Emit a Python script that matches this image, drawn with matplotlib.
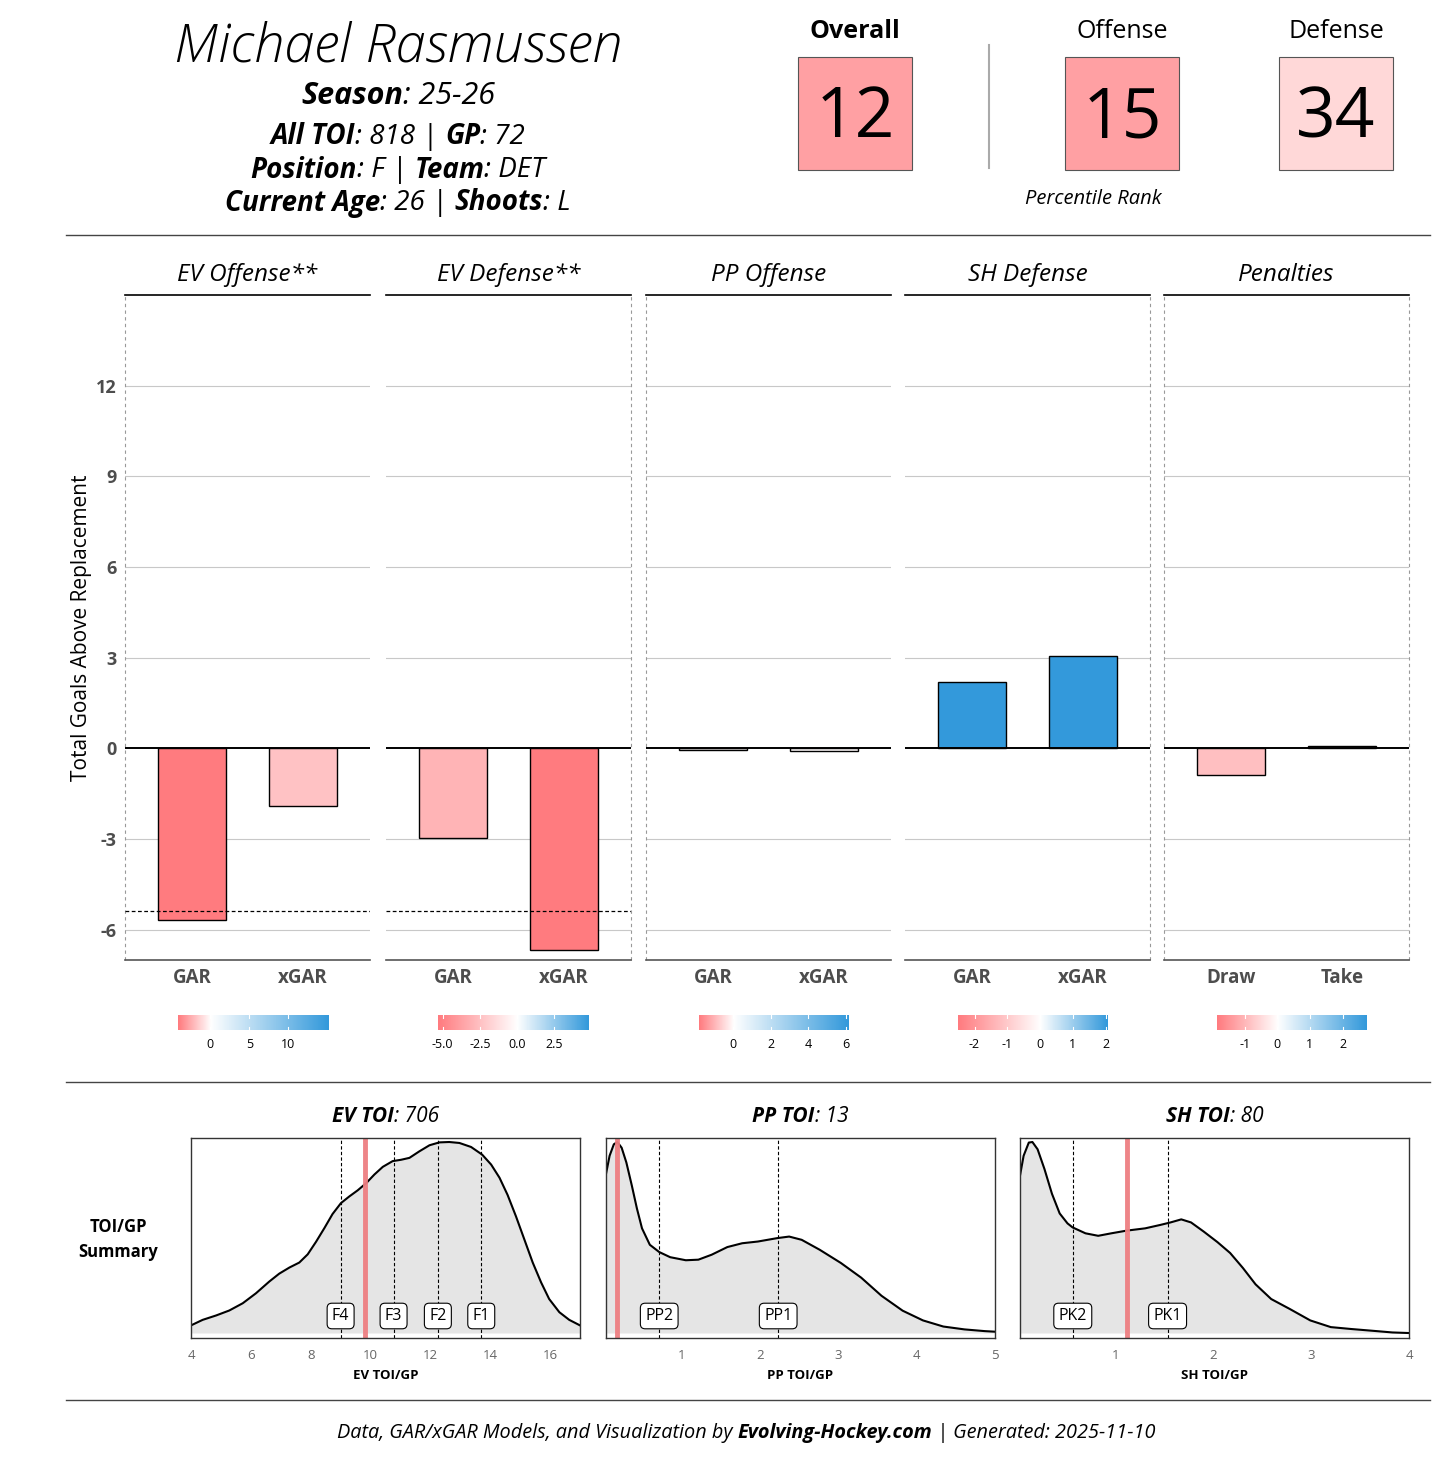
import numpy as np
import matplotlib
matplotlib.use('Agg')
import matplotlib.pyplot as plt
from matplotlib.colors import LinearSegmentedColormap, TwoSlopeNorm
from matplotlib.patches import Rectangle
from matplotlib.lines import Line2D
import matplotlib.transforms as mtransforms

plt.rcParams['font.family'] = ['Open Sans', 'DejaVu Sans']

# ---- header data ----
player = 'Michael Rasmussen'
season = '25-26'
all_toi, gp = 818, 72
position, team = 'F', 'DET'
age, shoots = 26, 'L'
pct_names = ['Overall', 'Offense', 'Defense']
pct_values = [12, 15, 34]

# ---- GAR panels ----
panel_titles = ['EV Offense**', 'EV Defense**', 'PP Offense', 'SH Defense', 'Penalties']
panel_cats = [['GAR', 'xGAR'], ['GAR', 'xGAR'], ['GAR', 'xGAR'], ['GAR', 'xGAR'], ['Draw', 'Take']]
panel_vals = [[-5.68, -1.91], [-2.97, -6.67], [-0.05, -0.07], [2.21, 3.07], [-0.89, 0.07]]
ev_replacement = -5.38
cbar_limits = [(-4.2, 15.0), (-5.27, 4.78), (-1.87, 6.16), (-2.52, 2.06), (-1.86, 2.73)]
cbar_ticks = [[0, 5, 10], [-5.0, -2.5, 0.0, 2.5], [0, 2, 4, 6], [-2, -1, 0, 1, 2], [-1, 0, 1, 2]]
cbar_labels = [['0', '5', '10'], ['-5.0', '-2.5', '0.0', '2.5'], ['0', '2', '4', '6'],
               ['-2', '-1', '0', '1', '2'], ['-1', '0', '1', '2']]
y_ticks = [-6, -3, 0, 3, 6, 9, 12]

# ---- TOI densities (relative height) ----
ev_x = [4.0, 4.39, 4.84, 5.28, 5.73, 6.17, 6.62, 6.95, 7.29, 7.62, 7.90, 8.18, 8.46, 8.73, 9.01,
        9.29, 9.57, 9.85, 10.13, 10.41, 10.74, 11.02, 11.30, 11.63, 11.97, 12.30, 12.63, 12.97,
        13.36, 13.73, 14.03, 14.31, 14.58, 14.86, 15.14, 15.42, 15.70, 15.97, 16.31, 16.64, 17.0]
ev_h = [0.04, 0.069, 0.092, 0.118, 0.156, 0.208, 0.27, 0.311, 0.343, 0.369, 0.412, 0.478, 0.55,
        0.623, 0.68, 0.715, 0.747, 0.784, 0.83, 0.87, 0.90, 0.907, 0.917, 0.951, 0.983, 0.998,
        1.0, 0.995, 0.974, 0.934, 0.882, 0.813, 0.723, 0.611, 0.49, 0.369, 0.265, 0.178, 0.109,
        0.069, 0.04]
pp_x = [0.03, 0.076, 0.13, 0.175, 0.23, 0.29, 0.36, 0.425, 0.49, 0.59, 0.71, 0.85, 1.05, 1.21,
        1.38, 1.58, 1.77, 1.97, 2.22, 2.37, 2.53, 2.76, 3.03, 3.29, 3.55, 3.82, 4.08, 4.34, 4.61,
        4.87, 5.0]
pp_h = [0.833, 0.928, 0.988, 1.0, 0.97, 0.893, 0.772, 0.652, 0.548, 0.462, 0.424, 0.397, 0.381,
        0.384, 0.41, 0.45, 0.47, 0.479, 0.497, 0.505, 0.488, 0.436, 0.367, 0.29, 0.195, 0.117,
        0.066, 0.034, 0.019, 0.010, 0.007]
sh_x = [0.02, 0.057, 0.11, 0.147, 0.20, 0.27, 0.347, 0.426, 0.506, 0.558, 0.69, 0.82, 0.954,
        1.11, 1.30, 1.456, 1.56, 1.67, 1.77, 1.90, 2.04, 2.17, 2.30, 2.43, 2.59, 2.78, 2.99, 3.20,
        3.41, 3.67, 3.83, 4.0]
sh_h = [0.824, 0.928, 0.997, 1.0, 0.962, 0.859, 0.729, 0.626, 0.574, 0.553, 0.522, 0.509, 0.522,
        0.536, 0.548, 0.566, 0.579, 0.595, 0.579, 0.531, 0.476, 0.419, 0.341, 0.255, 0.178,
        0.126, 0.066, 0.031, 0.021, 0.010, 0.003, 0.0]
toi_names = ['EV TOI', 'PP TOI', 'SH TOI']
toi_totals = [706, 13, 80]
toi_xlabels = ['EV TOI/GP', 'PP TOI/GP', 'SH TOI/GP']
toi_xlims = [(4, 17), (0.03, 5), (0.02, 4)]
toi_xticks = [[4, 6, 8, 10, 12, 14, 16], [1, 2, 3, 4, 5], [1, 2, 3, 4]]
toi_player = [9.83, 0.17, 1.11]
toi_lines = [[9.0, 10.77, 12.25, 13.70], [0.71, 2.23], [0.56, 1.53]]
toi_line_labels = [['F4', 'F3', 'F2', 'F1'], ['PP2', 'PP1'], ['PK2', 'PK1']]

W, H = 1440, 1483
fig = plt.figure(figsize=(W / 100, H / 100), dpi=100)
renderer = fig.canvas.get_renderer()


def fx(px):
    return px / W


def fy(py):
    return 1 - py / H


def rich(x, y, parts, size, color='black'):
    # parts: (text, weight, style); centred on x (pixels)
    texts, widths = [], []
    for s, w, st in parts:
        probe = fig.text(0, 0, '|' + s + '|', fontsize=size, fontweight=w, fontstyle=st)
        probe2 = fig.text(0, 0, '||', fontsize=size, fontweight=w, fontstyle=st)
        widths.append(probe.get_window_extent(renderer).width - probe2.get_window_extent(renderer).width)
        probe.remove()
        probe2.remove()
        texts.append(fig.text(0, fy(y), s, fontsize=size, fontweight=w, fontstyle=st,
                              va='center', ha='left', color=color))
    cur = x - sum(widths) / 2
    for t, wd in zip(texts, widths):
        t.set_x(fx(cur))
        cur += wd


def hline(y, x0=66, x1=1430):
    fig.add_artist(Line2D([fx(x0), fx(x1)], [fy(y), fy(y)], color='#444444', lw=1.0))


# ---- header ----
fig.text(fx(398), fy(47), player, fontsize=39, fontstyle='italic', fontweight='light',
         ha='center', va='center')
rich(398, 96, [('Season', 'bold', 'italic'), (': ' + season, 'normal', 'italic')], 22)
rich(398, 137, [('All TOI', 'bold', 'italic'), (': %d | ' % all_toi, 'normal', 'italic'),
                ('GP', 'bold', 'italic'), (': %d' % gp, 'normal', 'italic')], 20)
rich(398, 170, [('Position', 'bold', 'italic'), (': %s | ' % position, 'normal', 'italic'),
                ('Team', 'bold', 'italic'), (': %s' % team, 'normal', 'italic')], 20)
rich(398, 203, [('Current Age', 'bold', 'italic'), (': %d | ' % age, 'normal', 'italic'),
                ('Shoots', 'bold', 'italic'), (': %s' % shoots, 'normal', 'italic')], 20)

box_x = [798, 1065, 1279]
box_colors = ['#ffa0a3', '#ffa0a3', '#ffd8d8']
for i in range(3):
    fig.text(fx(box_x[i] + 57), fy(32), pct_names[i], fontsize=18,
             fontweight='bold' if i == 0 else 'normal', ha='center', va='center')
    fig.add_artist(Rectangle((fx(box_x[i]), fy(170)), fx(114), 113 / H,
                             facecolor=box_colors[i], edgecolor='#555555', lw=0.8))
    fig.text(fx(box_x[i] + 57), fy(119), str(pct_values[i]), fontsize=50,
             ha='center', va='center')
fig.add_artist(Line2D([fx(989), fx(989)], [fy(45), fy(168)], color='#aaaaaa', lw=1.5))
fig.text(fx(1093), fy(199), 'Percentile Rank', fontsize=14.5, fontstyle='italic',
         ha='center', va='center')

hline(235)
hline(1082)
hline(1400)

# ---- GAR panels ----
cmap = LinearSegmentedColormap.from_list('gar', ['#ff7b7f', '#ffffff', '#3399db'])
lefts = [125, 386, 646, 905, 1164]
pw = 245
ax_bottom, ax_top = 960, 295
for i in range(5):
    ax = fig.add_axes([fx(lefts[i]), fy(ax_bottom), fx(pw), (ax_bottom - ax_top) / H])
    vmin, vmax = cbar_limits[i]
    norm = TwoSlopeNorm(vcenter=0, vmin=vmin, vmax=vmax)
    colors = [cmap(norm(np.clip(v, vmin, vmax))) for v in panel_vals[i]]
    ax.set_xlim(0.4, 2.6)
    ax.set_ylim(-7, 15)
    for t in y_ticks:
        if t != 0:
            ax.axhline(t, color='#c8c8c8', lw=0.8, zorder=0)
    ax.bar([1, 2], panel_vals[i], width=0.61, color=colors, edgecolor='black', lw=1.0, zorder=2)
    ax.axhline(0, color='black', lw=1.4, zorder=3)
    if i < 2:
        ax.axhline(ev_replacement, color='black', lw=0.9, ls=(0, (3, 2)), zorder=3)
    if i in (0, 2, 4):
        ax.axvline(0.4, color='#999999', lw=0.8, ls=(0, (3, 3)), clip_on=False)
    if i in (1, 3, 4):
        ax.axvline(2.6, color='#999999', lw=0.8, ls=(0, (3, 3)), clip_on=False)
    for s in ['left', 'right']:
        ax.spines[s].set_visible(False)
    ax.spines['top'].set_color('black')
    ax.spines['top'].set_linewidth(1.2)
    ax.spines['bottom'].set_color('#555555')
    ax.spines['bottom'].set_linewidth(1.2)
    ax.set_xticks([1, 2])
    ax.set_xticklabels(panel_cats[i], fontsize=13.5, fontweight='bold', color='#4d4d4d')
    ax.tick_params(axis='x', length=0, pad=6)
    ax.set_yticks(y_ticks)
    if i == 0:
        ax.set_yticklabels([str(t) for t in y_ticks], fontsize=13, fontweight='bold', color='#4d4d4d')
        ax.tick_params(axis='y', length=0, pad=6)
        ax.set_ylabel('Total Goals Above Replacement', fontsize=15, labelpad=3)
    else:
        ax.tick_params(axis='y', length=0, labelleft=False)
    ax.set_title(panel_titles[i], fontsize=17.5, fontstyle='italic', pad=10)

    # colour legend
    cx = lefts[i] + pw / 2 + 5
    cax = fig.add_axes([fx(cx - 75), fy(1030), fx(150), 15 / H])
    grad = np.linspace(vmin, vmax, 300)
    cax.imshow(cmap(norm(grad))[np.newaxis, :, :], extent=(vmin, vmax, 0, 1), aspect='auto')
    cax.set_xlim(vmin, vmax)
    cax.set_yticks([])
    cax.set_xticks(cbar_ticks[i])
    cax.set_xticklabels(cbar_labels[i], fontsize=9)
    cax.tick_params(axis='x', length=0, pad=6)
    for t in cbar_ticks[i]:
        cax.plot([t, t], [0, 0.2], color='white', lw=0.8)
        cax.plot([t, t], [0.8, 1], color='white', lw=0.8)
    for s in cax.spines.values():
        s.set_visible(False)

# ---- TOI density panels ----
fig.text(fx(118), fy(1227), 'TOI/GP', fontsize=12, fontweight='bold', ha='center', va='center')
fig.text(fx(118), fy(1252), 'Summary', fontsize=12, fontweight='bold', ha='center', va='center')
dens_x = [ev_x, pp_x, sh_x]
dens_h = [ev_h, pp_h, sh_h]
dlefts = [191, 606, 1020]
for i in range(3):
    ax = fig.add_axes([fx(dlefts[i]), fy(1338), fx(389), 200 / H])
    ax.fill_between(dens_x[i], 0, dens_h[i], color='#e5e5e5', lw=0)
    ax.plot(dens_x[i], dens_h[i], color='black', lw=1.5)
    ax.set_xlim(*toi_xlims[i])
    ax.set_ylim(-0.026, 1.021)
    for v in toi_lines[i]:
        ax.axvline(v, color='black', lw=0.8, ls=(0, (3, 2)))
    ax.axvline(toi_player[i], color='#ee7f82', lw=3.5, alpha=0.95)
    trans = mtransforms.blended_transform_factory(ax.transData, ax.transAxes)
    for v, lab in zip(toi_lines[i], toi_line_labels[i]):
        ax.text(v, 0.11, lab, transform=trans, fontsize=11.5, ha='center', va='center',
                bbox=dict(boxstyle='round,pad=0.3,rounding_size=0.3', fc='white', ec='black', lw=0.8))
    ax.set_yticks([])
    ax.set_xticks(toi_xticks[i])
    ax.set_xticklabels([str(t) for t in toi_xticks[i]], fontsize=9.5, color='#666666')
    ax.tick_params(axis='x', length=0, pad=8)
    ax.set_xlabel(toi_xlabels[i], fontsize=9.5, fontweight='bold', labelpad=5)
    for s in ax.spines.values():
        s.set_color('#333333')
        s.set_linewidth(1.0)
    rich(dlefts[i] + 194.5, 1117, [(toi_names[i], 'bold', 'italic'),
                                   (': %d' % toi_totals[i], 'normal', 'italic')], 15)

rich(746, 1433, [('Data, GAR/xGAR Models, and Visualization by ', 'normal', 'italic'),
                 ('Evolving-Hockey.com', 'bold', 'italic'),
                 (' | Generated: 2025-11-10', 'normal', 'italic')], 14.3)

fig.savefig('out.png', dpi=100)
